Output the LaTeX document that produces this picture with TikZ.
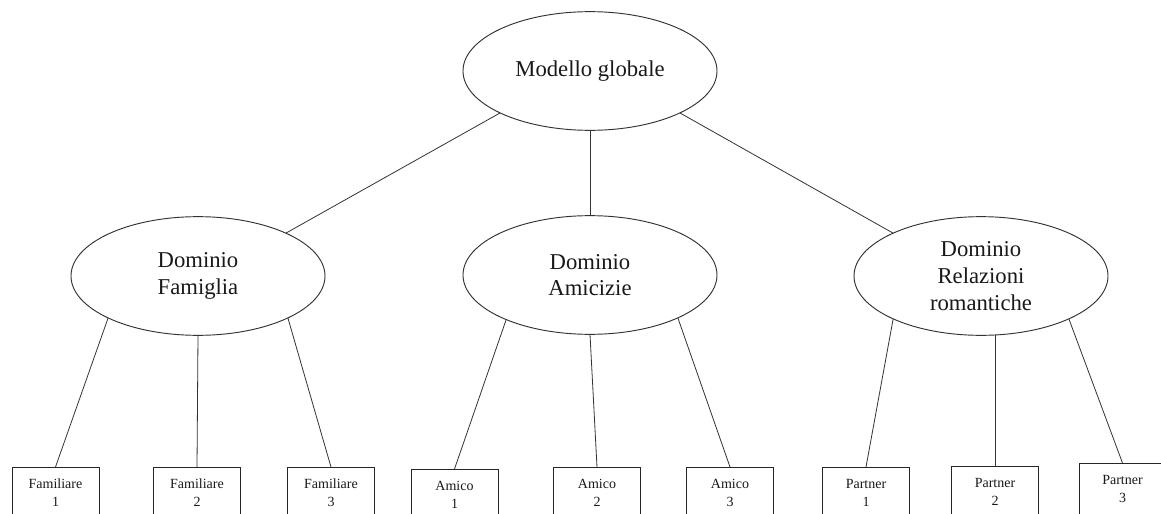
\documentclass[tikz,border=0pt]{standalone}
\usepackage{fontspec}
\setmainfont{Liberation Serif}
\usetikzlibrary{shapes.geometric}
\begin{document}
\begin{tikzpicture}[x=0.75pt,y=-0.75pt,
  oval/.style={ellipse, draw=black!80, line width=0.7pt, minimum width=190.5pt, minimum height=89pt, inner sep=0pt, outer sep=0pt, align=center, font=\fontsize{17}{20}\selectfont, text=black!90},
  leaf/.style={rectangle, draw=black!85, line width=0.7pt, minimum width=65.25pt, minimum height=39pt, inner sep=0pt, outer sep=0pt, align=center, anchor=north, font=\fontsize{10.5}{13.5}\selectfont, text=black!90},
  link/.style={draw=black!80, line width=0.6pt}]
\clip (0,0) rectangle (1161,514);
\fill[white] (0,0) rectangle (1161,514);
% ellipses
\node[oval] (top) at (590,71) {Modello globale};
\node[oval] (fam) at (198,276) {Dominio\\Famiglia};
\node[oval] (ami) at (590,275) {Dominio\\Amicizie};
\node[oval] (rel) at (981,276) {Dominio\\Relazioni\\romantiche};
% leaves
\node[leaf] (f1) at (55.5,467) {Familiare\\1};
\node[leaf] (f2) at (197,467) {Familiare\\2};
\node[leaf] (f3) at (331,467) {Familiare\\3};
\node[leaf] (a1) at (454.5,469) {Amico\\1};
\node[leaf] (a2) at (597,467) {Amico\\2};
\node[leaf] (a3) at (730,467) {Amico\\3};
\node[leaf] (p1) at (866,467) {Partner\\1};
\node[leaf] (p2) at (995,466) {Partner\\2};
\node[leaf] (p3) at (1122.5,463) {Partner\\3};
% connectors
\draw[link] (top.205) -- (fam.26);
\draw[link] (top.south) -- (ami.north);
\draw[link] (top.335) -- (rel.154);
\draw[link] (fam.205) -- (f1.north);
\draw[link] (fam.south) -- (f2.north);
\draw[link] (fam.335) -- (f3.north);
\draw[link] (ami.208) -- (a1.north);
\draw[link] (ami.south) -- (a2.north);
\draw[link] (ami.334) -- (a3.north);
\draw[link] (rel.206) -- (p1.north);
\draw[link] (p2.north) -- (p2.north |- rel.south);
\draw[link] (rel.334) -- (p3.north);
\end{tikzpicture}
\end{document}
